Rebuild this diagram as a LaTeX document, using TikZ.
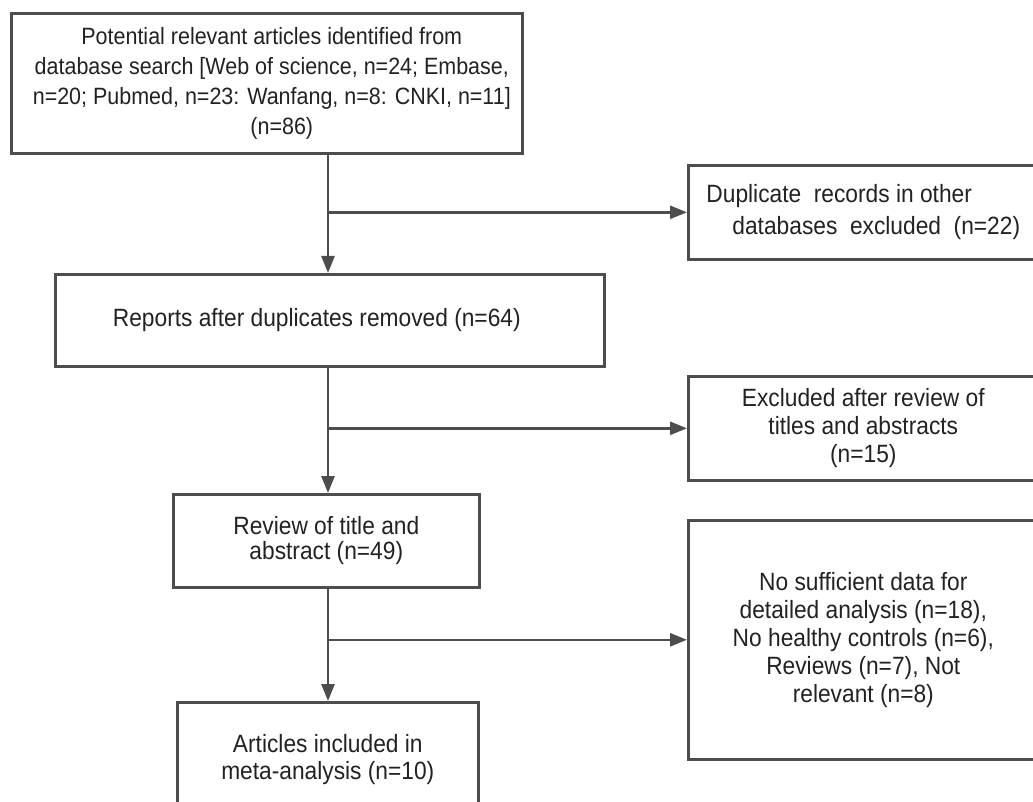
\documentclass[tikz,border=0pt]{standalone}
\usepackage{fontspec}
\setmainfont{Liberation Sans}[FakeStretch=0.91]
\usetikzlibrary{arrows.meta}
\definecolor{lncol}{HTML}{4D4D4F}
\definecolor{txcol}{HTML}{222222}
\tikzset{
  box/.style={draw=lncol, line width=2.6pt, rectangle, anchor=north west, inner sep=0pt,
    align=center, text=txcol, font=\fontsize{25}{28}\selectfont},
  arr/.style={draw=lncol, line width=2.6pt, -{Triangle[length=17pt,width=13pt]}}
}
\begin{document}
\begin{tikzpicture}[x=1pt,y=-1pt]
\useasboundingbox (0,0) rectangle (1033,802);
\clip (0,0) rectangle (1033,802);
\node[box, minimum width=511pt, minimum height=140pt, font=\fontsize{23.6}{30}\selectfont] (top) at (10,12)
  {\hspace*{10pt}Potential relevant articles identified from\\\hspace*{10pt}database search [Web of science, n=24; Embase,\\\hspace*{10pt}n=20; Pubmed, n=23: Wanfang, n=8: CNKI, n=11]\\\hspace*{30pt}(n=86)};
\node[box, minimum width=350pt, minimum height=94pt, align=left, font=\fontsize{25}{32}\selectfont] (dup) at (687,164)
  {Duplicate\ \ records in other\\\hspace*{26pt}databases\ \ excluded\ \ (n=22)};
\node[box, minimum width=549pt, minimum height=92pt] (rep) at (54,273)
  {Reports after duplicates removed (n=64)\hspace*{26pt}};
\node[box, minimum width=350pt, minimum height=104pt] (exc) at (687,375)
  {Excluded after review of\\titles and abstracts\\(n=15)};
\node[box, minimum width=306pt, minimum height=93pt, font=\fontsize{25}{25}\selectfont] (rev) at (172,493)
  {Review\ of\ title and\\abstract (n=49)};
\node[box, minimum width=350pt, minimum height=239pt] (nos) at (687,519)
  {No sufficient data for\\detailed analysis (n=18),\\No healthy controls (n=6),\\Reviews (n=7), Not\\relevant (n=8)};
\node[box, minimum width=301pt, minimum height=115pt, font=\fontsize{25}{27}\selectfont] (art) at (176,701)
  {Articles included in\\meta-analysis (n=10)};
\coordinate (vx) at (328,0);
\draw[arr] (top.south -| vx) -- (rep.north -| vx);
\draw[arr] (dup.west -| vx) -- (dup.west);
\draw[arr] (rep.south -| vx) -- (rev.north -| vx);
\draw[arr] (exc.west -| vx) -- (exc.west);
\draw[arr] (rev.south -| vx) -- (art.north -| vx);
\draw[arr] (nos.west -| vx) -- (nos.west);
\end{tikzpicture}
\end{document}
